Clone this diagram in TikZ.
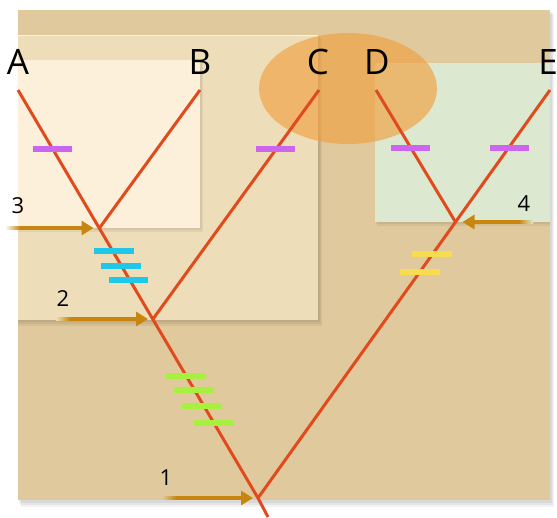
\documentclass[tikz,border=0pt]{standalone}
\usepackage{fontspec}
\setmainfont{Open Sans}
\usetikzlibrary{arrows.meta}

\definecolor{bgtan}{HTML}{E0C99C}
\definecolor{panelbeige}{HTML}{EEDDB9}
\definecolor{panelcream}{HTML}{FCF0DA}
\definecolor{panelgreen}{HTML}{DCE8CF}
\definecolor{blobora}{HTML}{F0A040}
\definecolor{branchred}{HTML}{E04A1C}
\definecolor{pushgold}{HTML}{C8860E}
\definecolor{tickmag}{HTML}{CC66EE}
\definecolor{tickcyan}{HTML}{1EC8E8}
\definecolor{tickgreen}{HTML}{A8F040}
\definecolor{tickyel}{HTML}{F8DC50}

\begin{document}
\begin{tikzpicture}[x=1pt,y=-1pt,
  branch/.style={draw=branchred,line width=3pt},
  tick/.style={line width=5.5pt},
  push/.style={draw=pushgold,line width=3.2pt,-{Triangle[length=12pt,width=14pt]}},
  taxon/.style={font=\fontsize{35}{35}\selectfont,inner sep=0pt},
  stepnum/.style={font=\fontsize{22}{22}\selectfont,inner sep=0pt},
  softshade/.style={fill=black,opacity=0.05}]
\useasboundingbox (0,0) rectangle (557,517);
\fill[white] (0,0) rectangle (557,517);
% background and panels
\fill[softshade] (19,12) rectangle (552,503);
\fill[softshade] (20,13) rectangle (553,505);
\fill[softshade] (21,14) rectangle (554,507);
\fill[bgtan] (18,10) rectangle (550,500);
\fill[softshade] (18,36) rectangle (320,322);
\fill[softshade] (18,37) rectangle (321,324);
\fill[softshade] (18,38) rectangle (322,326);
\fill[panelbeige] (18,35) rectangle (318,320);
\draw[white,opacity=0.7,line width=1pt] (18,35.5) -- (318,35.5);
\fill[softshade] (18,61) rectangle (202,230);
\fill[softshade] (18,62) rectangle (203,232);
\fill[panelcream] (18,60) rectangle (200,228);
\fill[softshade] (376,64) rectangle (550,224);
\fill[softshade] (377,65) rectangle (550,226);
\fill[panelgreen] (375,63) rectangle (550,222);
\fill[blobora,opacity=0.65] (348,88.5) ellipse (89 and 55.5);

% tips and junctions
\node[taxon] (A) at (18,62) {A};
\node[taxon] (B) at (200,62) {B};
\node[taxon] (C) at (318,62) {C};
\node[taxon] (D) at (377,62) {D};
\node[taxon] (E) at (548,62) {E};
\coordinate (a) at (18,90);
\coordinate (b) at (200,90);
\coordinate (c) at (319,90);
\coordinate (d) at (376,90);
\coordinate (e) at (550,90);
\coordinate (ab) at (99.5,228);
\coordinate (abc) at (153,319);
\coordinate (de) at (455.5,222);
\coordinate (root) at (258,498);
\coordinate (stem) at (268,517);

% tree
\draw[branch] (a) -- (root) -- (stem);
\draw[branch] (root) -- (e);
\draw[branch] (ab) -- (b);
\draw[branch] (abc) -- (c);
\draw[branch] (de) -- (d);

% changes
\draw[tick,tickmag] (33,149) -- ++(39,0);
\draw[tick,tickmag] (256,149) -- ++(39,0);
\draw[tick,tickmag] (391,148) -- ++(39,0);
\draw[tick,tickmag] (490,148) -- ++(39,0);
\draw[tick,tickcyan] (94,251) -- ++(40,0);
\draw[tick,tickcyan] (101,266) -- ++(40,0);
\draw[tick,tickcyan] (109,280) -- ++(39,0);
\draw[tick,tickgreen] (166,376) -- ++(39,0);
\draw[tick,tickgreen] (174,390) -- ++(40,0);
\draw[tick,tickgreen] (182,406) -- ++(40,0);
\draw[tick,tickgreen] (194,423) -- ++(40,0);
\draw[tick,tickyel] (412,254) -- ++(40,0);
\draw[tick,tickyel] (400,272) -- ++(40,0);

% events (faded tails)
\coordinate (p3) at (20,228);
\coordinate (p2) at (70,319);
\coordinate (p1) at (176,498);
\coordinate (p4) at (519,222);
\shade[left color=white,right color=pushgold] (5,226.4) rectangle (p3|-0,229.6);
\shade[left color=panelbeige,right color=pushgold] (56,317.4) rectangle (p2|-0,320.6);
\shade[left color=bgtan,right color=pushgold] (162,496.4) rectangle (p1|-0,499.6);
\shade[left color=pushgold,right color=panelgreen] (p4|-0,220.4) rectangle (533,223.6);
\draw[push] (p3) -- ([xshift=-6pt]ab);
\draw[push] (p2) -- ([xshift=-5pt]abc);
\draw[push] (p1) -- ([xshift=-5pt]root);
\draw[push] (p4) -- ([xshift=7pt]de);
\node[stepnum] (n3) at (18,206) {3};
\node[stepnum] (n2) at (63,299) {2};
\node[stepnum] (n1) at (166,478) {1};
\node[stepnum] (n4) at (524,204) {4};
\end{tikzpicture}
\end{document}
